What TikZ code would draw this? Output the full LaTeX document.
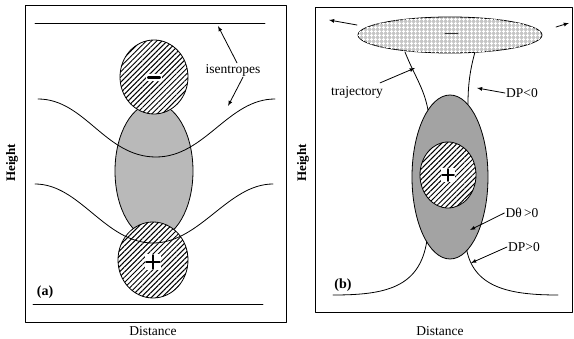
\documentclass[tikz,border=0pt]{standalone}
\usepackage{fontspec}
\setmainfont{Liberation Serif}
\usetikzlibrary{arrows, patterns, patterns.meta, positioning}

\begin{document}
\begin{tikzpicture}[
  x=1pt, y=-1pt,
  line cap=round,
  line join=round,
  font=\fontsize{13.5}{16}\selectfont,
  hatched/.style={thick, fill=white,
    postaction={pattern={Lines[angle=45, distance=3.7pt, line width=1pt]}}},
  lbl/.style={inner sep=1pt},
  tag/.style={font=\fontsize{14}{16}\selectfont\bfseries},
  axis/.style={rotate=90, font=\fontsize{13}{15}\selectfont\bfseries}
]
  \useasboundingbox (0,0) rectangle (574,339);

  % ---------------- panel (a) ----------------
  \draw[semithick] (25,5) rectangle (286,322);

  % isentropes, flat
  \draw[thick] (35,23) -- (265,23);
  \draw[thick] (33,304) -- (263,304);

  % region between the two anomalies
  \draw[thick, fill=gray!55] (154,171) ellipse (39 and 68);

  % anomalies
  \draw[hatched] (154,77) ellipse (34 and 37);
  \draw[hatched] (153,260) ellipse (35 and 38);
  \fill[white] (146,74) rectangle (162,81);
  \draw[line width=2.2pt] (148,77.5) -- (160,77.5);
  \fill[white] (145,254) rectangle (161,270);
  \draw[line width=1.8pt] (146,262) -- (160,262);
  \draw[line width=1.8pt] (153,255) -- (153,269);

  % deformed isentropes
  \draw[thick]
    (38,99) .. controls (85,99) and (105,157) .. (156,157)
    .. controls (205,157) and (228,99) .. (275,99);
  \draw[thick]
    (35,184) .. controls (80,184) and (105,243) .. (153,243)
    .. controls (200,243) and (228,184) .. (273,184);

  % labels
  \node[lbl] (isent) at (233,70) {isentropes};
  \coordinate (isTop) at (218,26);
  \coordinate (isMid) at (228,106);
  \draw[-latex, thick] (isent.north) ++(4,0) -- (isTop);
  \draw[-latex, thick] (isent.south) ++(10,0) -- (isMid);

  \node[tag] (labA) at (45,292) {(a)};
  \node[axis] (hgtA) at (12,163) {Height};
  \node (distA) at (153,331) {Distance};

  % ---------------- panel (b) ----------------
  \draw[semithick] (315,7) rectangle (572,312);

  % trajectories
  \draw[thick] (405,52) .. controls (414,75) and (424,88) .. (428,110);
  \draw[thick] (475,52) .. controls (470,70) and (468,85) .. (468,104);
  \draw[thick] (427,240) .. controls (420,288) and (385,295) .. (333,295);
  \draw[thick] (466,246) .. controls (472,288) and (510,295) .. (558,295);

  % outflow at the top
  \draw[thick, fill=gray!45,
    postaction={pattern={Hatch[distance=4pt, line width=1.2pt]}, pattern color=white}]
    (450,35) ellipse (92 and 18);
  \draw[semithick, gray!40!black] (445,33) -- (458,33);
  \coordinate (outL) at (329,20);
  \coordinate (outR) at (569,23);
  \draw[-latex, thick] (357,25) -- (outL);
  \draw[-latex, thick] (556,27) -- (outR);

  % anomaly
  \draw[thick, fill=gray!72] (450,177) ellipse (38 and 82);
  \draw[hatched] (448,175) ellipse (28 and 33);
  \fill[white] (441,168) rectangle (455,182);
  \draw[line width=1.8pt] (442,175) -- (454,175);
  \draw[line width=1.8pt] (448,169) -- (448,181);

  % labels
  \node[lbl] (traj) at (357,92) {trajectory};
  \node[lbl] (dpNeg) at (522,93) {DP<0};
  \node[lbl] (dTh) at (522,213) {Dθ\,>0};
  \node[lbl] (dpPos) at (524,247) {DP>0};
  \coordinate (trajPt) at (415,68);
  \coordinate (dpNegPt) at (477,88);
  \coordinate (dThPt) at (470,230);
  \coordinate (dpPosPt) at (471,263);
  \draw[-latex, thick] (traj.north east) ++(-4,-2) -- (trajPt);
  \draw[-latex, thick] (dpNeg.west) -- (dpNegPt);
  \draw[-latex, thick] (dTh.west) -- (dThPt);
  \draw[-latex, thick] (dpPos.west) -- (dpPosPt);

  \node[tag] (labB) at (343,285) {(b)};
  \node[axis] (hgtB) at (303,163) {Height};
  \node (distB) at (440,331) {Distance};
\end{tikzpicture}
\end{document}
